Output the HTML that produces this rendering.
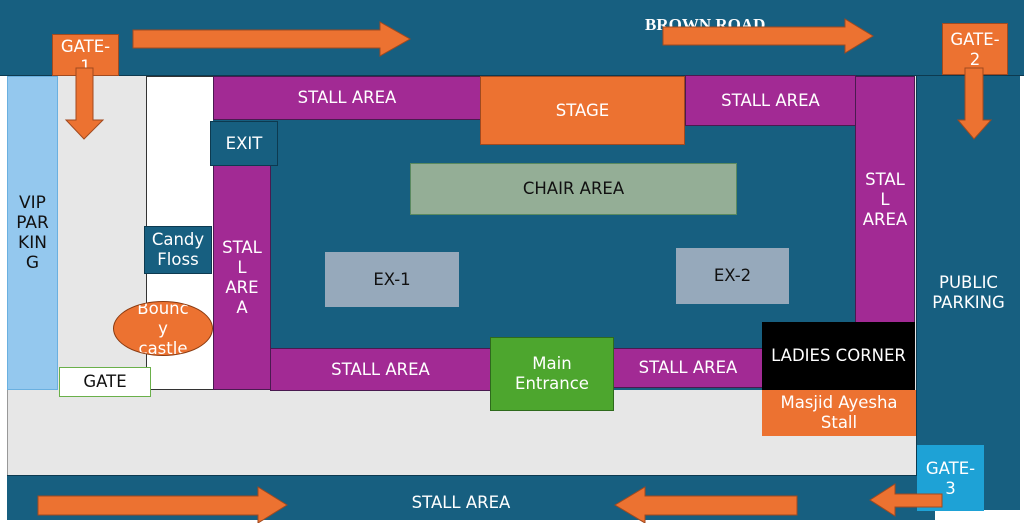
<!DOCTYPE html>
<html><head><style>
body{margin:0;width:1024px;height:523px;position:relative;overflow:hidden;background:#fff;font-family:"DejaVu Sans","Liberation Sans",sans-serif;}
.b{position:absolute;box-sizing:border-box;display:flex;align-items:center;justify-content:center;text-align:center;color:#fff;font-size:16.5px;line-height:20px;}
.db{background:#175f80}.pu{background:#a22a94;border:1px solid #4a1a50}.or{background:#ec7231;border:1px solid #a04a20}
</style></head><body>
<div class="b db" style="left:0;top:0;width:1024px;height:76px;border-bottom:1px solid #0d3a50"></div>
<div class="b" style="top:76px;left:7px;width:909px;height:400px;background:#e7e7e7;border-left:1px solid #999"></div>
<div class="b db" style="left:916px;top:76px;width:104px;height:434px;border-left:1px solid #0d3a50">PUBLIC<br>PARKING</div>
<div class="b db" style="left:7px;top:475px;width:928px;height:45px;border-top:1px solid #0d3a50"></div>
<div class="b" style="left:7px;top:76px;width:51px;height:314px;background:#94c8ee;border:1px solid #6ab0e0;color:#111;font-size:17px">VIP<br>PAR<br>KIN<br>G</div>
<div class="b" style="left:146px;top:76px;width:68px;height:314px;background:#fff;border:1px solid #333"></div>
<div class="b db" style="left:213px;top:76px;width:702px;height:314px"></div>
<div class="b pu" style="left:213px;top:76px;width:268px;height:44px">STALL AREA</div>
<div class="b or" style="left:480px;top:76px;width:205px;height:69px">STAGE</div>
<div class="b pu" style="left:685px;top:75px;width:171px;height:51px">STALL AREA</div>
<div class="b pu" style="left:855px;top:76px;width:60px;height:247px">STAL<br>L<br>AREA</div>
<div class="b pu" style="left:213px;top:165px;width:58px;height:225px">STAL<br>L<br>ARE<br>A</div>
<div class="b db" style="left:210px;top:121px;width:68px;height:45px;border:1px solid #0d3a50">EXIT</div>
<div class="b pu" style="left:270px;top:348px;width:221px;height:43px">STALL AREA</div>
<div class="b pu" style="left:612px;top:348px;width:152px;height:40px">STALL AREA</div>
<div class="b" style="left:490px;top:337px;width:124px;height:74px;background:#4da62e;border:1px solid #2e6a1c">Main<br>Entrance</div>
<div class="b" style="left:762px;top:322px;width:153px;height:68px;background:#000">LADIES CORNER</div>
<div class="b" style="left:762px;top:390px;width:154px;height:46px;background:#ec7231">Masjid Ayesha<br>Stall</div>
<div class="b" style="left:410px;top:163px;width:327px;height:52px;background:#94ae96;border:1px solid #5a8a60;color:#111">CHAIR AREA</div>
<div class="b" style="left:325px;top:252px;width:134px;height:55px;background:#96a9bb;color:#111">EX-1</div>
<div class="b" style="left:676px;top:248px;width:113px;height:56px;background:#96a9bb;color:#111">EX-2</div>
<div class="b db" style="left:144px;top:226px;width:68px;height:48px;border:1px solid #0d3a50">Candy<br>Floss</div>
<div class="b" style="left:113px;top:301px;width:100px;height:55px;border-radius:50%;background:#ec7231;border:1px solid #8a3a10;line-height:20px;overflow:hidden">Bounc<br>y<br>castle</div>
<div class="b" style="left:59px;top:367px;width:92px;height:30px;background:#fff;border:1px solid #6ab04a;color:#111">GATE</div>
<div class="b" style="left:917px;top:445px;width:67px;height:66px;background:#1ea2d6;align-items:flex-start;padding-top:14px">GATE-<br>3</div>
<div class="b or" style="left:52px;top:34px;width:67px;height:42px;align-items:flex-start;padding-top:2px;overflow:hidden">GATE-<br>1</div>
<div class="b or" style="left:942px;top:23px;width:66px;height:52px;align-items:flex-start;padding-top:6px">GATE-<br>2</div>
<div style="position:absolute;left:645px;top:15px;color:#fff;font:bold 17px 'Liberation Serif',serif">BROWN ROAD</div>
<div class="b" style="left:300px;top:492px;width:322px;height:22px">STALL AREA</div>
<svg width="1024" height="523" style="position:absolute;left:0;top:0" fill="#ec7231" stroke="#a04a20" stroke-width="1">
<polygon points="133,30 380,30 380,22 410,39 380,56 380,48 133,48"/>
<polygon points="663,27 845,27 845,19 873,36 845,53 845,45 663,45"/>
<polygon points="76,68 93,68 93,120 103,120 84,139 66,120 76,120"/>
<polygon points="965,68 983,68 983,120 991,120 974,139 958,120 965,120"/>
<polygon points="38,496 258,496 258,487 287,505 258,523 258,515 38,515"/>
<polygon points="797,496 645,496 645,487 615,505 645,523 645,515 797,515"/>
<polygon points="942,494 895,494 895,484 870,500 895,516 895,507 942,507"/>
</svg>
</body></html>
